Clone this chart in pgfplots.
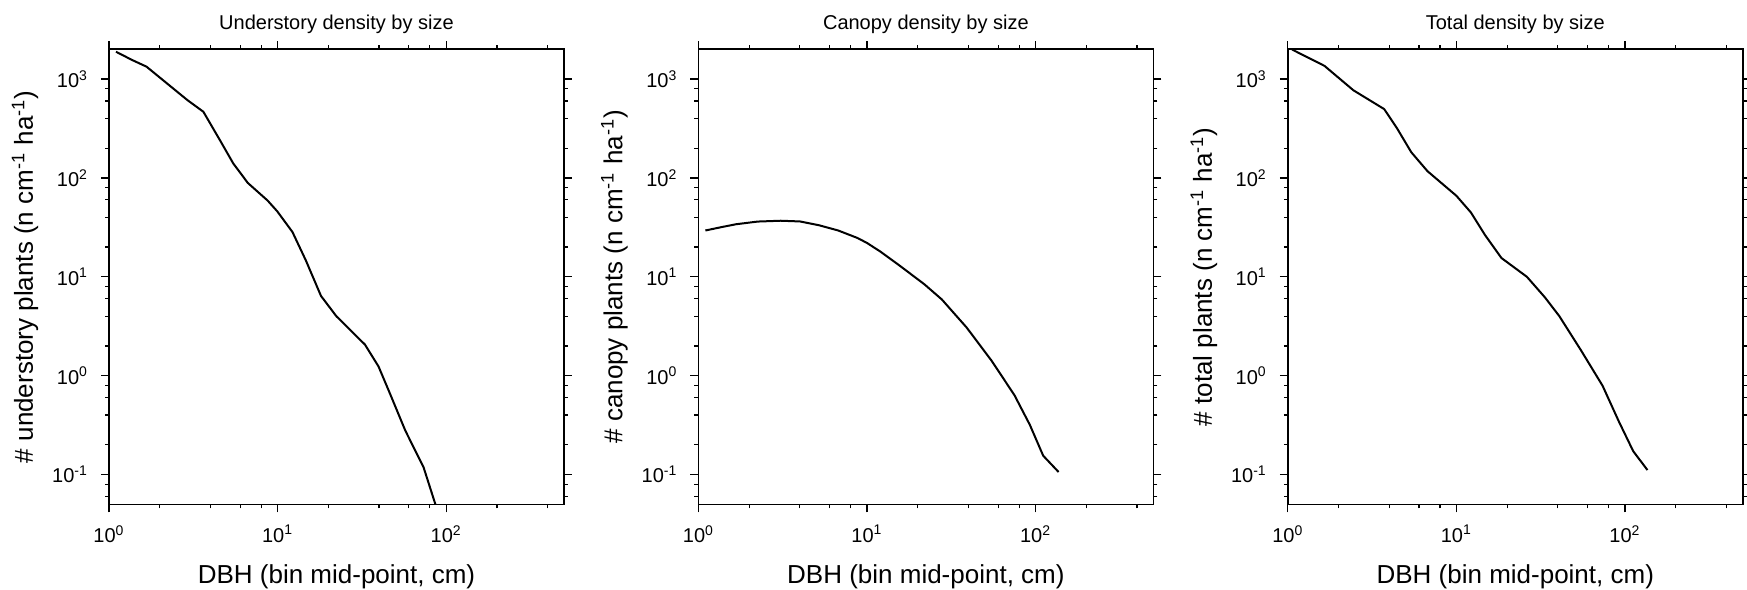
\documentclass[border=0pt]{standalone}
\usepackage{fontspec}
\setmainfont{Liberation Sans}
\usepackage{pgfplots}
\pgfplotsset{compat=1.18}
\usepgfplotslibrary{groupplots}

\begin{document}
% 1 px of the reference = 0.5pt
\begin{tikzpicture}
\begin{groupplot}[
  group style={group size=3 by 1, horizontal sep=67.2pt},
  xmode=log, ymode=log, scale only axis,
  width=227.5pt, height=227.5pt,
  xmin=1, xmax=500, ymin=0.05, ymax=2000,
  tick align=outside, major tick length=4pt, minor tick length=2pt,
  xtick={1,10,100},
  xticklabels={10\textsuperscript{0},10\textsuperscript{1},10\textsuperscript{2}},
  ytick={0.1,1,10,100,1000},
  yticklabels={10\textsuperscript{-1},10\textsuperscript{0},10\textsuperscript{1},10\textsuperscript{2},10\textsuperscript{3}},
  minor xtick={2,4,6,8,20,40,60,80,200,400},
  minor ytick={0.06,0.08,0.2,0.4,0.6,0.8,2,4,6,8,20,40,60,80,200,400,600,800},
  axis line style={black, line width=0.8pt},
  tick style={black, line width=0.6pt},
  tick label style={font=\fontsize{10}{12}\selectfont},
  xticklabel style={yshift=-3pt},
  yticklabel style={xshift=-3pt},
  title style={at={(0.5,1)}, anchor=base, yshift=4pt, font=\fontsize{10}{12}\selectfont},
  xlabel style={at={(0.5,0)}, anchor=base, yshift=-39.8pt, font=\fontsize{13}{15}\selectfont},
  ylabel style={at={(0,0.5)}, anchor=base, yshift=38pt, font=\fontsize{13}{15}\selectfont},
  xlabel={DBH (bin mid-point, cm)},
]
\nextgroupplot[title={Understory density by size},
  ylabel={\# understory plants (n cm\textsuperscript{-1} ha\textsuperscript{-1})}]
\addplot[black, line width=1pt] coordinates {(1.1,1890) (1.37,1560) (1.67,1334) (2.92,612) (3.63,467)
  (4.55,241) (5.46,140) (6.66,89) (8.73,59) (9.95,46) (12.25,28.4) (14.7,14.7)
  (18.1,6.4) (22.3,4.0) (33,2.06) (39.7,1.24) (46.4,0.66) (57.2,0.279)
  (73.5,0.118) (90,0.04)};

\nextgroupplot[title={Canopy density by size},
  ylabel={\# canopy plants (n cm\textsuperscript{-1} ha\textsuperscript{-1})}]
\addplot[black, line width=1pt] coordinates {(1.1,29.4) (1.37,31.8) (1.67,34.0) (2.25,36.2) (3.08,36.9)
  (4.0,36.3) (5.2,33.2) (6.75,29.4) (8.78,24.7) (10,22) (12,18) (15.6,13)
  (21.9,8.4) (27.8,5.9) (39,3.07) (54.8,1.42) (75,0.634) (92.5,0.318)
  (111,0.155) (137,0.106)};

\nextgroupplot[title={Total density by size},
  ylabel={\# total plants (n cm\textsuperscript{-1} ha\textsuperscript{-1})}]
\addplot[black, line width=1pt] coordinates {(1.06,1990) (1.65,1360) (2.45,770) (3.73,497) (4.43,321)
  (5.4,182) (6.74,117) (10,66) (12.2,44.7) (14.8,26.4) (18.5,15.5) (26.2,10)
  (33.5,6.2) (40.8,4.0) (54.8,1.81) (73.7,0.79) (92,0.344) (112,0.172)
  (136,0.111)};
\end{groupplot}

\pgfresetboundingbox
\path[use as bounding box] (group c1r1.south west) ++(-54.5pt,-42.5pt) rectangle ++(873.5pt,294.65pt);
\end{tikzpicture}
\end{document}
